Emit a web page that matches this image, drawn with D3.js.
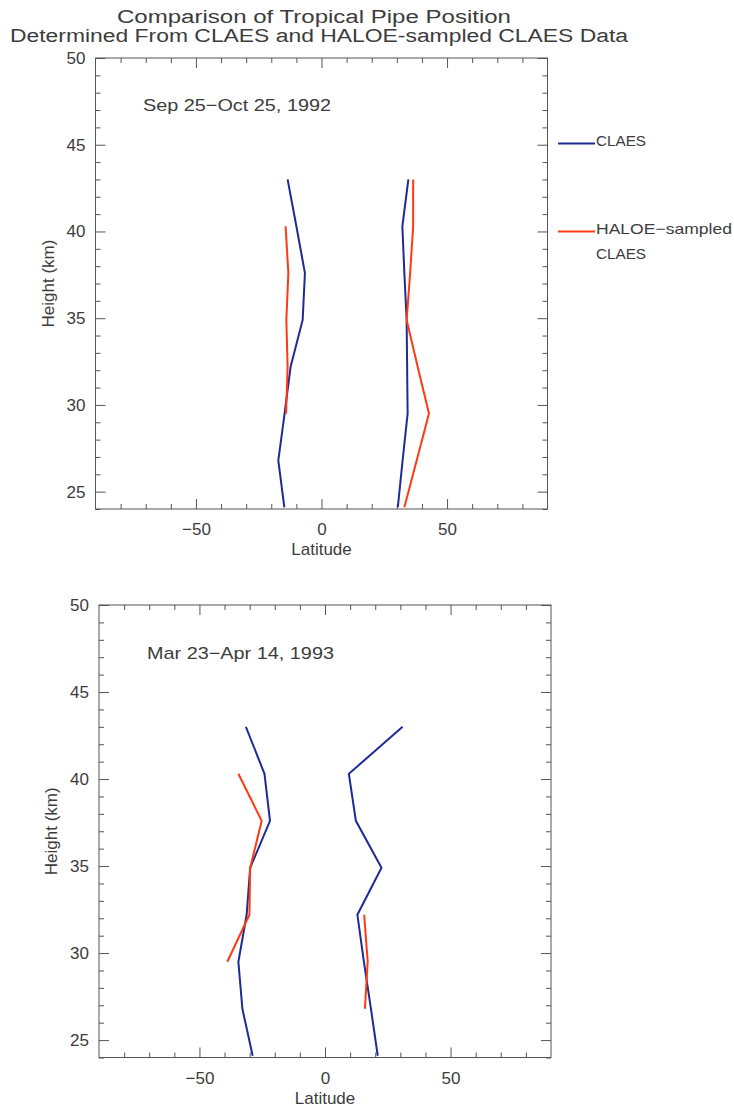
<!DOCTYPE html>
<html>
<head>
<meta charset="utf-8">
<script src="https://cdn.jsdelivr.net/npm/d3@7"></script>
<style>
  html, body { margin: 0; padding: 0; background: #fff; }
  svg text { font-family: "Liberation Sans", "DejaVu Sans", sans-serif; fill: #3c3c3c; }
</style>
</head>
<body>
<svg id="chart" width="734" height="1110"></svg>
<script>
// Pressure-level heights (km) shared by all profiles
const heights = [24.1, 26.8, 29.5, 32.2, 34.9, 37.6, 40.3, 43.0];

// Sep 25 - Oct 25, 1992: pipe edge latitudes (deg) at each height
const claesSouth1992 = [-14.8, -17.2, -14.7, -12.3, -7.5, -6.6, -10.0, -13.5];
const claesNorth1992 = [30.4, 32.3, 34.3, 34.1, 33.9, 33.0, 32.2, 34.6];
const haloeSouth1992 = [null, null, -14.1, -13.5, -14.0, -13.2, -14.3, null];
const haloeNorth1992 = [33.0, 37.9, 42.8, 38.3, 33.9, 35.3, 36.5, 36.5];

// Mar 23 - Apr 14, 1993
const claesSouth1993 = [-28.8, -32.9, -34.5, -31.2, -29.8, -21.9, -24.1, -31.5];
const claesNorth1993 = [21.0, 18.3, 15.5, 12.9, 22.5, 12.3, 9.5, 30.9];
const haloeSouth1993 = [null, null, -38.9, -30.1, -29.8, -25.2, -34.5, null];
const haloeNorth1993 = [null, 15.9, 17.0, 15.6, null, null, null, null];

// Axes
const latDomain = [-90, 90];
const heightDomain = [24, 50];
const latMajorTicks = [-50, 0, 50];
const latMinorTicks = [-80, -70, -60, -40, -30, -20, -10, 10, 20, 30, 40, 60, 70, 80];
const heightMajorTicks = [25, 30, 35, 40, 45, 50];
const heightMinorTicks = d3.range(24, 51).filter(h => h % 5 !== 0);

const titleLines = ["Comparison of Tropical Pipe Position",
                    "Determined From CLAES and HALOE-sampled CLAES Data"];
const legendLabels = [["CLAES"], ["HALOE\u2212sampled", "CLAES"]];

const BLUE = "#1f2a96";
const RED = "#ff3a10";
const AXIS = "#555";

const svg = d3.select("#chart");

// Title
svg.append("text").attr("x", 117).attr("y", 23)
  .attr("font-size", 18).attr("textLength", 394).attr("lengthAdjust", "spacingAndGlyphs")
  .text(titleLines[0]);
svg.append("text").attr("x", 10).attr("y", 42)
  .attr("font-size", 18).attr("textLength", 618).attr("lengthAdjust", "spacingAndGlyphs")
  .text(titleLines[1]);

const panels = [
  { box: { x0: 95.5, x1: 547.5, y0: 58, y1: 509 }, label: "Sep 25\u2212Oct 25, 1992",
    labelPos: [143, 111], labelLen: 188,
    series: [
      { v: claesSouth1992, c: BLUE }, { v: claesNorth1992, c: BLUE },
      { v: haloeSouth1992, c: RED }, { v: haloeNorth1992, c: RED }
    ] },
  { box: { x0: 99, x1: 551, y0: 605, y1: 1057.5 }, label: "Mar 23\u2212Apr 14, 1993",
    labelPos: [147, 659], labelLen: 187,
    series: [
      { v: claesSouth1993, c: BLUE }, { v: claesNorth1993, c: BLUE },
      { v: haloeSouth1993, c: RED }, { v: haloeNorth1993, c: RED }
    ] }
];

panels.forEach(p => {
  const b = p.box;
  const x = d3.scaleLinear().domain(latDomain).range([b.x0, b.x1]);
  const y = d3.scaleLinear().domain(heightDomain).range([b.y1, b.y0]);
  const g = svg.append("g");

  const styleAxis = sel => {
    sel.select(".domain").remove();
    sel.selectAll(".tick line").attr("stroke", AXIS);
    sel.selectAll(".tick text").attr("fill", "#3c3c3c")
      .style("font-family", '"Liberation Sans", "DejaVu Sans", sans-serif');
  };

  // bottom: labelled major ticks + minor ticks, pointing inward
  g.append("g").attr("transform", `translate(0,${b.y1})`)
    .call(d3.axisBottom(x).tickValues(latMajorTicks).tickSize(-10).tickPadding(14)
      .tickFormat(d => d < 0 ? "\u2212" + Math.abs(d) : d))
    .call(styleAxis)
    .call(s => s.selectAll(".tick text").attr("font-size", 17));
  g.append("g").attr("transform", `translate(0,${b.y1})`)
    .call(d3.axisBottom(x).tickValues(latMinorTicks).tickSize(-5).tickFormat(""))
    .call(styleAxis);
  // top mirror
  g.append("g").attr("transform", `translate(0,${b.y0})`)
    .call(d3.axisTop(x).tickValues(latMajorTicks).tickSize(-10).tickFormat(""))
    .call(styleAxis);
  g.append("g").attr("transform", `translate(0,${b.y0})`)
    .call(d3.axisTop(x).tickValues(latMinorTicks).tickSize(-5).tickFormat(""))
    .call(styleAxis);
  // left
  g.append("g").attr("transform", `translate(${b.x0},0)`)
    .call(d3.axisLeft(y).tickValues(heightMajorTicks).tickSize(-10).tickPadding(10))
    .call(styleAxis)
    .call(s => s.selectAll(".tick text").attr("font-size", 17));
  g.append("g").attr("transform", `translate(${b.x0},0)`)
    .call(d3.axisLeft(y).tickValues(heightMinorTicks).tickSize(-5).tickFormat(""))
    .call(styleAxis);
  // right mirror
  g.append("g").attr("transform", `translate(${b.x1},0)`)
    .call(d3.axisRight(y).tickValues(heightMajorTicks).tickSize(-10).tickFormat(""))
    .call(styleAxis);
  g.append("g").attr("transform", `translate(${b.x1},0)`)
    .call(d3.axisRight(y).tickValues(heightMinorTicks).tickSize(-5).tickFormat(""))
    .call(styleAxis);

  // frame
  g.append("rect").attr("x", b.x0).attr("y", b.y0)
    .attr("width", b.x1 - b.x0).attr("height", b.y1 - b.y0)
    .attr("fill", "none").attr("stroke", AXIS).attr("stroke-width", 1);

  // axis titles
  g.append("text").attr("x", (b.x0 + b.x1) / 2).attr("y", b.y1 + 46)
    .attr("text-anchor", "middle").attr("font-size", 17).text("Latitude");
  g.append("text")
    .attr("transform", `translate(${b.x0 - 42},${(b.y0 + b.y1) / 2}) rotate(-90)`)
    .attr("text-anchor", "middle").attr("font-size", 17).text("Height (km)");

  // period label
  g.append("text").attr("x", p.labelPos[0]).attr("y", p.labelPos[1])
    .attr("font-size", 17).attr("textLength", p.labelLen)
    .attr("lengthAdjust", "spacingAndGlyphs").text(p.label);

  // profiles
  const line = d3.line()
    .defined(d => d.lat !== null)
    .x(d => x(d.lat)).y(d => y(d.h));
  p.series.forEach(s => {
    const pts = heights.map((h, i) => ({ h, lat: s.v[i] }));
    g.append("path").attr("d", line(pts))
      .attr("fill", "none").attr("stroke", s.c).attr("stroke-width", 2)
      .attr("stroke-linejoin", "miter");
  });
});

// Legend (right of the upper panel)
const legendItems = [{ c: BLUE, y: 143.5, lines: legendLabels[0] },
                     { c: RED, y: 231.5, lines: legendLabels[1] }];
legendItems.forEach(it => {
  svg.append("line").attr("x1", 558).attr("x2", 595)
    .attr("y1", it.y).attr("y2", it.y).attr("stroke", it.c).attr("stroke-width", 2);
  it.lines.forEach((t, i) => {
    const el = svg.append("text").attr("x", 596).attr("y", it.y + 2 + i * 25)
      .attr("font-size", 15).text(t);
    if (t.length > 6) el.attr("textLength", 136).attr("lengthAdjust", "spacingAndGlyphs");
    else el.attr("textLength", 50).attr("lengthAdjust", "spacingAndGlyphs");
  });
});
</script>
</body>
</html>
